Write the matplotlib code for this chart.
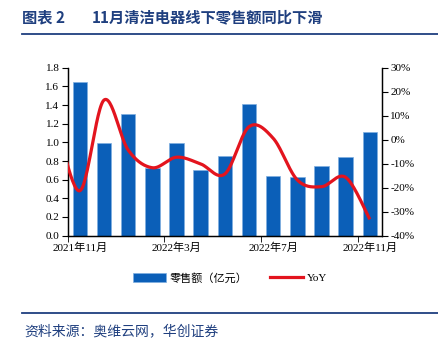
import matplotlib
matplotlib.use('Agg')
import matplotlib.pyplot as plt
from matplotlib.patches import Patch
from matplotlib.lines import Line2D
import numpy as np

# ========== 数据 ==========
months = ['2021年11月', '2021年12月', '2022年1月', '2022年2月', '2022年3月', '2022年4月',
          '2022年5月', '2022年6月', '2022年7月', '2022年8月', '2022年9月', '2022年10月',
          '2022年11月']
sales = [1.65, 0.99, 1.30, 0.73, 0.99, 0.70, 0.85, 1.41, 0.64, 0.63, 0.75, 0.84, 1.11]
# 同比 (%)，首个值为2021年10月，位于坐标区左侧之外
yoy_prev = 9.0
yoy = [-21.3, 16.5, -4.3, -11.7, -7.3, -10.1, -14.3, 5.4, 0.6, -16.8, -19.6, -15.7, -33.2]

label_months = ['2021年11月', '2022年3月', '2022年7月', '2022年11月']

TITLE_NO = '图表 2'
TITLE = '11月清洁电器线下零售额同比下滑'
SOURCE = '资料来源：奥维云网，华创证券'

BLUE = '#0B5FB8'
RED = '#E3141E'
NAVY = '#1F3F7F'

plt.rcParams['font.family'] = ['Liberation Serif', 'Noto Sans CJK SC']
plt.rcParams['axes.linewidth'] = 0.9


def smooth(xs, ys, n=30):
    """Excel 风格的平滑曲线 (Bezier, 控制点取相邻点差的 1/6)"""
    xs = np.asarray(xs, float)
    ys = np.asarray(ys, float)
    px = np.concatenate([[xs[0]], xs, [xs[-1]]])
    py = np.concatenate([[ys[0]], ys, [ys[-1]]])
    out_x, out_y = [], []
    t = np.linspace(0, 1, n)
    for i in range(len(xs) - 1):
        p0x, p0y = px[i + 1], py[i + 1]
        p3x, p3y = px[i + 2], py[i + 2]
        c1x = p0x + (px[i + 2] - px[i]) / 6
        c1y = p0y + (py[i + 2] - py[i]) / 6
        c2x = p3x - (px[i + 3] - px[i + 1]) / 6
        c2y = p3y - (py[i + 3] - py[i + 1]) / 6
        bx = (1 - t)**3 * p0x + 3 * (1 - t)**2 * t * c1x + 3 * (1 - t) * t**2 * c2x + t**3 * p3x
        by = (1 - t)**3 * p0y + 3 * (1 - t)**2 * t * c1y + 3 * (1 - t) * t**2 * c2y + t**3 * p3y
        out_x.append(bx)
        out_y.append(by)
    return np.concatenate(out_x), np.concatenate(out_y)


fig = plt.figure(figsize=(4.38, 3.42), dpi=100)
ax = fig.add_axes([0.1546, 0.311, 0.7174, 0.491])

x = np.arange(len(months))
ax.bar(x, sales, width=0.6, color=BLUE, edgecolor='#7FAEE0', linewidth=0.5, zorder=2)

ax.set_xlim(-0.5, len(months) - 0.5)
ax.set_ylim(0, 1.8)
ax.set_yticks(np.arange(0, 1.81, 0.2))
ax.set_yticklabels([f'{v:.1f}' for v in np.arange(0, 1.81, 0.2)])

# 标签放在类别中间，刻度线放在类别边界
pos = [months.index(m) for m in label_months]
ax.set_xticks(pos)
ax.set_xticklabels(label_months)
ax.tick_params(axis='x', which='major', length=0, pad=5)
ax.set_xticks([p - 0.5 for p in pos], minor=True)
ax.tick_params(axis='x', which='minor', length=4, direction='out')
ax.tick_params(axis='y', length=4, direction='out', pad=2)
ax.tick_params(labelsize=8)
ax.spines['top'].set_visible(False)

ax2 = ax.twinx()
sx, sy = smooth(np.arange(-1, len(yoy)), [yoy_prev] + yoy)
ax2.plot(sx, sy, color=RED, linewidth=2.3, solid_capstyle='butt', zorder=3)
ax2.set_xlim(-0.5, len(months) - 0.5)
ax2.set_ylim(-40, 30)
ax2.set_yticks(np.arange(-40, 31, 10))
ax2.set_yticklabels([f'{v}%' for v in range(-40, 31, 10)])
ax2.tick_params(axis='y', length=4, direction='out', labelsize=8, pad=2)
ax2.spines['top'].set_visible(False)

# 图例
handles = [Patch(facecolor=BLUE, edgecolor='#7FAEE0', linewidth=0.5),
           Line2D([0], [0], color=RED, linewidth=2.3)]
fig.legend(handles, ['零售额（亿元）', 'YoY'], loc='center', bbox_to_anchor=(0.525, 0.187),
           ncol=2, frameon=False, fontsize=8, handlelength=3.0, handleheight=0.9,
           handletextpad=0.3, columnspacing=2.0)

# 标题与来源
fig.text(0.05, 0.948, TITLE_NO, fontsize=11, fontweight='bold', color=NAVY,
         family=['Noto Sans CJK SC'], va='center', ha='left')
fig.text(0.21, 0.948, TITLE, fontsize=11, fontweight='bold', color=NAVY,
         family=['Noto Sans CJK SC'], va='center', ha='left')
fig.add_artist(Line2D([0.05, 1.0], [0.9, 0.9], color=NAVY, linewidth=1.3))
fig.add_artist(Line2D([0.05, 1.0], [0.085, 0.085], color=NAVY, linewidth=1.3))
fig.text(0.055, 0.032, SOURCE, fontsize=10, color=NAVY, style='italic',
         family=['Noto Sans CJK SC'], va='center', ha='left')

fig.savefig('out.png', dpi=100)
